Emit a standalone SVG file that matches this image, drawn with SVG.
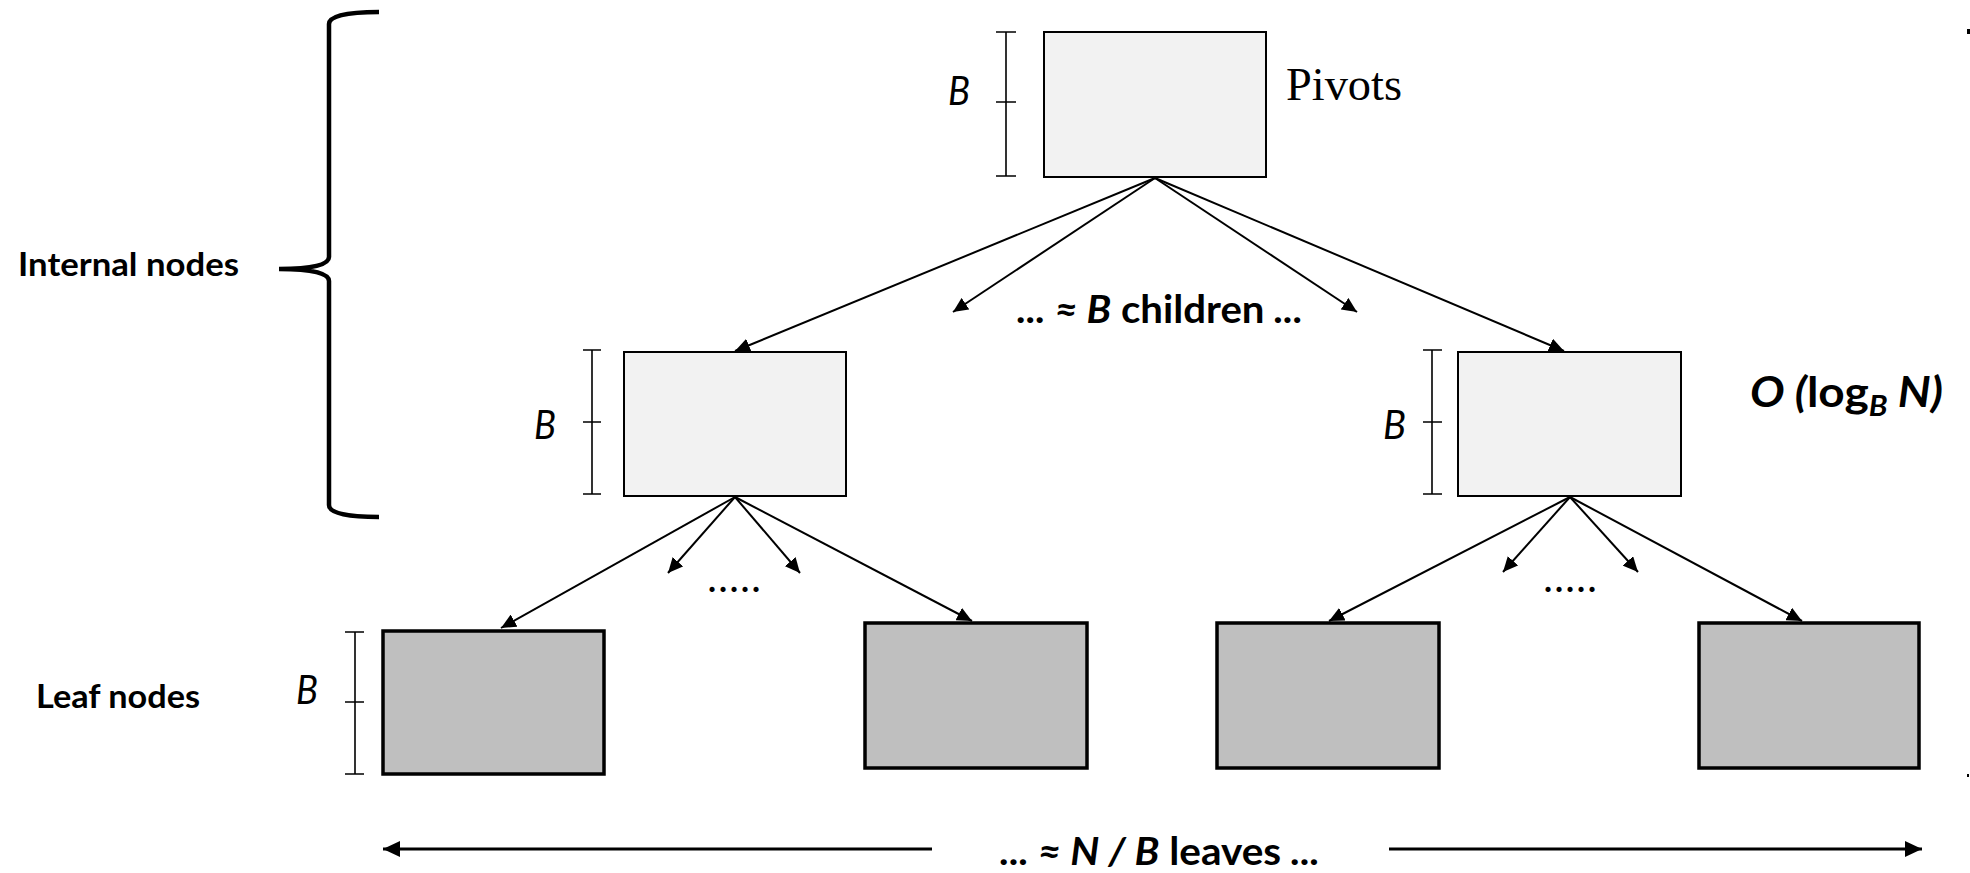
<svg xmlns="http://www.w3.org/2000/svg" width="1970" height="873" viewBox="0 0 1970 873">
<defs>
<style>
.inode{fill:#f2f2f2;stroke:#000;stroke-width:2}
.leaf{fill:#bfbfbf;stroke:#000;stroke-width:3.5}
.dim{stroke:#000;stroke-width:1.6;fill:none}
.conn line{stroke:#000;stroke-width:2;marker-end:url(#ah)}
.lbl{font-family:Lato,"Liberation Sans",sans-serif;fill:#000}
.b{font-weight:bold}
.i{font-style:italic}
.dimlbl{font-family:Lato,"Liberation Sans",sans-serif;font-style:italic;font-size:40px;fill:#000}
</style>
<marker id="ah" markerUnits="userSpaceOnUse" markerWidth="16" markerHeight="14" refX="15" refY="7" orient="auto">
<path d="M0,0 L15,7 L0,14 z" fill="#000"/>
</marker>
<marker id="ahb" markerUnits="userSpaceOnUse" markerWidth="18" markerHeight="16" refX="17" refY="8" orient="auto">
<path d="M0,0 L17,8 L0,16 z" fill="#000"/>
</marker>
</defs>
<rect width="1970" height="873" fill="#fff"/>

<g id="brace">
<path d="M379 12 Q329 12 329 24 L329 257 Q329 269 279 269 Q329 269 329 281 L329 505 Q329 517 379 517" fill="none" stroke="#000" stroke-width="4.5"/>
<text class="lbl b" x="18" y="276" font-size="32" textLength="221" lengthAdjust="spacingAndGlyphs">Internal nodes</text>
</g>

<g id="leaf-label">
<text class="lbl b" x="36" y="708" font-size="32" textLength="164" lengthAdjust="spacingAndGlyphs">Leaf nodes</text>
</g>

<g id="root">
<rect class="inode" x="1044" y="32" width="222" height="145"/>
<path class="dim" d="M1006 32 V176 M996 32 H1016 M996 102 H1016 M996 176 H1016"/>
<text class="dimlbl" x="948" y="105" textLength="22" lengthAdjust="spacingAndGlyphs">B</text>
<text x="1286" y="100" font-family="'Liberation Serif',serif" font-size="47" textLength="116" lengthAdjust="spacingAndGlyphs">Pivots</text>
</g>

<g id="mid-left">
<rect class="inode" x="624" y="352" width="222" height="144"/>
<path class="dim" d="M592 350 V494 M583 350 H601 M583 422 H601 M583 494 H601"/>
<text class="dimlbl" x="534" y="439" textLength="22" lengthAdjust="spacingAndGlyphs">B</text>
</g>

<g id="mid-right">
<rect class="inode" x="1458" y="352" width="223" height="144"/>
<path class="dim" d="M1432 350 V494 M1423 350 H1442 M1423 422 H1442 M1423 494 H1442"/>
<text class="dimlbl" x="1383" y="439" textLength="23" lengthAdjust="spacingAndGlyphs">B</text>
</g>

<g id="leaf1">
<rect class="leaf" x="383" y="631" width="221" height="143"/>
<path class="dim" d="M355 632 V774 M345 632 H364 M345 702 H364 M345 774 H364"/>
<text class="dimlbl" x="296" y="704" textLength="22" lengthAdjust="spacingAndGlyphs">B</text>
</g>
<g id="leaf2"><rect class="leaf" x="865" y="623" width="222" height="145"/></g>
<g id="leaf3"><rect class="leaf" x="1217" y="623" width="222" height="145"/></g>
<g id="leaf4"><rect class="leaf" x="1699" y="623" width="220" height="145"/></g>

<g id="connectors" class="conn">
<line x1="1155" y1="178" x2="735" y2="351"/>
<line x1="1155" y1="178" x2="953" y2="312"/>
<line x1="1155" y1="178" x2="1357" y2="312"/>
<line x1="1155" y1="178" x2="1564" y2="351"/>
<line x1="735" y1="497" x2="501" y2="628"/>
<line x1="735" y1="497" x2="668" y2="573"/>
<line x1="735" y1="497" x2="800" y2="573"/>
<line x1="735" y1="497" x2="972" y2="621"/>
<line x1="1570" y1="497" x2="1329" y2="621"/>
<line x1="1570" y1="497" x2="1503" y2="572"/>
<line x1="1570" y1="497" x2="1638" y2="572"/>
<line x1="1570" y1="497" x2="1802" y2="621"/>
</g>

<g id="labels">
<text class="lbl b" x="1017" y="323" font-size="39" textLength="286" lengthAdjust="spacingAndGlyphs"><tspan class="i">... ≈ B</tspan> children <tspan class="i">...</tspan></text>
<text class="lbl b" x="708" y="592" font-size="34" textLength="52" lengthAdjust="spacing">.....</text>
<text class="lbl b" x="1544" y="592" font-size="34" textLength="52" lengthAdjust="spacing">.....</text>
<text class="lbl b" x="1750" y="407" font-size="42" textLength="193" lengthAdjust="spacingAndGlyphs"><tspan class="i">O (</tspan>log<tspan class="i" font-size="28" dy="9">B</tspan><tspan class="i" dy="-9"> N)</tspan></text>
</g>

<g id="leaves-arrow">
<line x1="932" y1="849" x2="383" y2="849" stroke="#000" stroke-width="3" marker-end="url(#ahb)"/>
<line x1="1389" y1="849" x2="1922" y2="849" stroke="#000" stroke-width="3" marker-end="url(#ahb)"/>
<text class="lbl b" x="1000" y="865" font-size="39" textLength="320" lengthAdjust="spacingAndGlyphs"><tspan class="i">... ≈ N / B</tspan> leaves <tspan class="i">...</tspan></text>
</g>

<g id="edge-marks">
<rect x="1967" y="29" width="3" height="5" fill="#000"/>
<rect x="1967" y="774" width="2" height="3" fill="#000"/>
</g>
</svg>
